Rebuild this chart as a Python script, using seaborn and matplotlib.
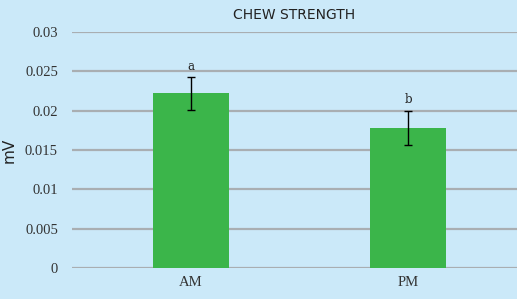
import numpy as np
import pandas as pd
import matplotlib
matplotlib.use("Agg")
import matplotlib.pyplot as plt
import seaborn as sns

# data
sessions = ["AM", "PM"]
chew_mv = [0.0222, 0.0178]
chew_err = [0.0021, 0.0022]
letters = ["a", "b"]

df = pd.DataFrame({"session": sessions, "mV": chew_mv})

sns.set_style("white")
bg = "#cbe9f9"
fig = plt.figure(figsize=(5.17, 2.99), dpi=100, facecolor=bg)
ax = fig.add_axes([0.139, 0.1037, 0.861, 0.7893])
ax.set_facecolor(bg)

sns.barplot(data=df, x="session", y="mV", color="#3bb54a", saturation=1,
            width=0.35, linewidth=0, edgecolor="none", ax=ax, zorder=3)
xpos = np.arange(len(sessions))
ax.errorbar(xpos, chew_mv, yerr=chew_err, fmt="none", ecolor="black",
            elinewidth=1, capsize=3, capthick=1, zorder=4)
for x, v, e, t in zip(xpos, chew_mv, chew_err, letters):
    ax.annotate(t, (x, v + e), xytext=(0, 3), textcoords="offset points",
                ha="center", va="bottom", fontsize=8.5,
                family="DejaVu Serif", color="#222222")

ax.set_ylim(0, 0.03)
ax.set_xlim(-0.548, 1.502)
ax.set_yticks([0, 0.005, 0.01, 0.015, 0.02, 0.025, 0.03])
ax.set_yticklabels(["0", "0.005", "0.01", "0.015", "0.02", "0.025", "0.03"],
                   family="Liberation Serif", fontsize=10.5, color="#333333")
ax.set_xticklabels(sessions, family="Liberation Serif", fontsize=10.5,
                   color="#333333")
ax.tick_params(axis="y", length=0, pad=10)
ax.tick_params(axis="x", length=0, pad=6)
ax.grid(axis="y", color="#a9aeb2", linewidth=1.6, zorder=0)
ax.set_axisbelow(True)
for s in ax.spines.values():
    s.set_visible(False)

ax.set_xlabel("")
ax.set_ylabel("mV", fontsize=11, family="DejaVu Sans", color="#222222")
ax.yaxis.set_label_coords(-0.125, 0.5)
ax.set_title("CHEW STRENGTH", fontsize=10, family="DejaVu Sans",
             color="#222222", pad=9)

fig.savefig("out.png", dpi=100, facecolor=bg)
